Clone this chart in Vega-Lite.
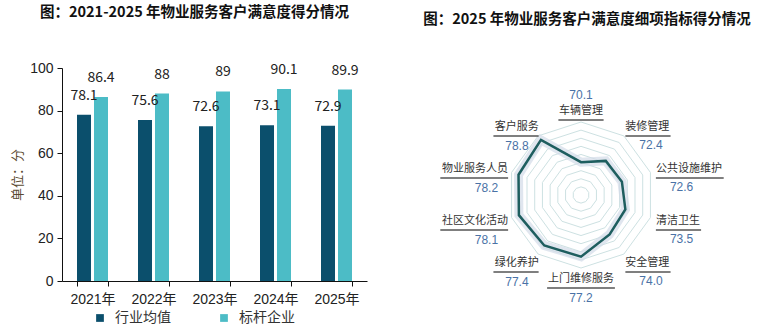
{
  "$schema": "https://vega.github.io/schema/vega-lite/v6.json",
  "background": "white",
  "padding": {"left": 11, "top": 4, "right": 0, "bottom": 0},
  "spacing": 23,
  "config": {"view": {"stroke": null}, "font": "Noto Sans CJK SC"},
  "datasets": {
    "bars": [
      {"year": "2021年", "series": "行业均值", "value": 78.1},
      {"year": "2021年", "series": "标杆企业", "value": 86.4},
      {"year": "2022年", "series": "行业均值", "value": 75.6},
      {"year": "2022年", "series": "标杆企业", "value": 88},
      {"year": "2023年", "series": "行业均值", "value": 72.6},
      {"year": "2023年", "series": "标杆企业", "value": 89},
      {"year": "2024年", "series": "行业均值", "value": 73.1},
      {"year": "2024年", "series": "标杆企业", "value": 90.1},
      {"year": "2025年", "series": "行业均值", "value": 72.9},
      {"year": "2025年", "series": "标杆企业", "value": 89.9}
    ],
    "radar": [
      {"k": 0, "name": "车辆管理", "v": 70.1},
      {"k": 1, "name": "装修管理", "v": 72.4},
      {"k": 2, "name": "公共设施维护", "v": 72.6},
      {"k": 3, "name": "清洁卫生", "v": 73.5},
      {"k": 4, "name": "安全管理", "v": 74.0},
      {"k": 5, "name": "上门维修服务", "v": 77.2},
      {"k": 6, "name": "绿化养护", "v": 77.4},
      {"k": 7, "name": "社区文化活动", "v": 78.1},
      {"k": 8, "name": "物业服务人员", "v": 78.2},
      {"k": 9, "name": "客户服务", "v": 78.8}
    ],
    "rings": [
      {"level": 64, "k": [0,1,2,3,4,5,6,7,8,9]},
      {"level": 66, "k": [0,1,2,3,4,5,6,7,8,9]},
      {"level": 68, "k": [0,1,2,3,4,5,6,7,8,9]},
      {"level": 70, "k": [0,1,2,3,4,5,6,7,8,9]},
      {"level": 72, "k": [0,1,2,3,4,5,6,7,8,9]},
      {"level": 74, "k": [0,1,2,3,4,5,6,7,8,9]},
      {"level": 76, "k": [0,1,2,3,4,5,6,7,8,9]},
      {"level": 78, "k": [0,1,2,3,4,5,6,7,8,9]},
      {"level": 80, "k": [0,1,2,3,4,5,6,7,8,9]}
    ]
  },
  "hconcat": [
    {
      "width": 305,
      "height": 213,
      "title": {"text": "图：2021-2025 年物业服务客户满意度得分情况", "font": "Noto Sans CJK SC", "fontSize": 14.5, "fontWeight": "bold", "color": "#111", "anchor": "middle", "dx": -20, "offset": 41},
      "data": {"name": "bars"},
      "encoding": {
        "x": {"field": "year", "type": "nominal", "title": null,
          "scale": {"paddingInner": 0.492, "paddingOuter": 0.246},
          "axis": {"labelAngle": 0, "tickBand": "extent", "domainColor": "#111", "tickColor": "#111", "tickSize": 5, "labelFontSize": 14, "labelColor": "#222", "labelPadding": 6, "labelFont": "Liberation Sans, Noto Sans CJK SC"}},
        "xOffset": {"field": "series", "type": "nominal", "sort": ["行业均值", "标杆企业"], "scale": {"paddingInner": 0.176, "paddingOuter": 0}},
        "y": {"field": "value", "type": "quantitative", "scale": {"domain": [0, 100], "nice": false},
          "axis": {"values": [0, 20, 40, 60, 80, 100], "grid": false, "domainColor": "#111", "tickColor": "#111", "tickSize": 5, "labelFontSize": 14, "labelColor": "#222", "labelFont": "Liberation Sans", "labelPadding": 4,
            "title": "单位：分", "titleFont": "Noto Sans CJK SC", "titleFontSize": 13, "titleFontWeight": "normal", "titleColor": "#5a4a30", "titlePadding": 5}}
      },
      "layer": [
        {"mark": {"type": "bar"},
          "encoding": {"color": {"field": "series", "type": "nominal", "sort": ["行业均值", "标杆企业"],
            "scale": {"domain": ["行业均值", "标杆企业"], "range": ["#0b4f6c", "#4cbcc6"]},
            "legend": {"orient": "none", "legendX": 31, "legendY": 243, "direction": "horizontal", "title": null, "symbolType": "square", "symbolSize": 60, "symbolStrokeWidth": 0, "labelFontSize": 14, "labelFont": "Noto Sans CJK SC", "labelColor": "#333", "columnPadding": 46, "labelOffset": 8, "padding": 0}}}},
        {"mark": {"type": "text", "dy": -19, "baseline": "middle", "fontSize": 14, "color": "#222", "font": "Noto Sans CJK SC"},
          "encoding": {"text": {"field": "value", "type": "quantitative"}}}
      ]
    },
    {
      "width": 360,
      "height": 240,
      "title": {"text": "图：2025 年物业服务客户满意度细项指标得分情况", "font": "Noto Sans CJK SC", "fontSize": 14.5, "fontWeight": "bold", "color": "#111", "anchor": "middle", "dx": 17, "offset": 41},
      "layer": [
        {
          "data": {"name": "rings"},
          "transform": [
            {"flatten": ["k"]},
            {"calculate": "(datum.level-62)/18*73", "as": "r"},
            {"calculate": "191 + datum.r*sin(datum.k*PI/5)", "as": "px"},
            {"calculate": "127 - datum.r*cos(datum.k*PI/5)", "as": "py"}
          ],
          "mark": {"type": "line", "interpolate": "linear-closed", "stroke": "#cde1e2", "strokeWidth": 1},
          "encoding": {
            "x": {"field": "px", "type": "quantitative", "scale": {"domain": [0, 360], "nice": false, "zero": false}, "axis": null},
            "y": {"field": "py", "type": "quantitative", "scale": {"domain": [0, 240], "nice": false, "zero": false, "reverse": true}, "axis": null},
            "detail": {"field": "level", "type": "nominal"},
            "order": {"field": "k", "type": "quantitative"}
          }
        },
        {
          "data": {"name": "radar"},
          "transform": [
            {"calculate": "(datum.v-62)/18*73", "as": "r"},
            {"calculate": "191 + datum.r*sin(datum.k*PI/5)", "as": "px"},
            {"calculate": "127 - datum.r*cos(datum.k*PI/5)", "as": "py"}
          ],
          "mark": {"type": "line", "interpolate": "linear-closed", "stroke": "#d3dce8", "strokeWidth": 9, "opacity": 0.7},
          "encoding": {
            "x": {"field": "px", "type": "quantitative", "scale": {"domain": [0, 360], "nice": false, "zero": false}, "axis": null},
            "y": {"field": "py", "type": "quantitative", "scale": {"domain": [0, 240], "nice": false, "zero": false, "reverse": true}, "axis": null},
            "order": {"field": "k", "type": "quantitative"}
          }
        },
        {
          "data": {"name": "radar"},
          "transform": [
            {"calculate": "(datum.v-62)/18*73", "as": "r"},
            {"calculate": "191 + datum.r*sin(datum.k*PI/5)", "as": "px"},
            {"calculate": "127 - datum.r*cos(datum.k*PI/5)", "as": "py"}
          ],
          "mark": {"type": "line", "interpolate": "linear-closed", "stroke": "#1e5e5f", "strokeWidth": 2.5},
          "encoding": {
            "x": {"field": "px", "type": "quantitative", "scale": {"domain": [0, 360], "nice": false, "zero": false}, "axis": null},
            "y": {"field": "py", "type": "quantitative", "scale": {"domain": [0, 240], "nice": false, "zero": false, "reverse": true}, "axis": null},
            "order": {"field": "k", "type": "quantitative"}
          }
        },
        {
          "data": {"name": "radar"},
          "transform": [
            {"calculate": "191 + 84*sin(datum.k*PI/5)", "as": "lx"},
            {"calculate": "127 - 84*cos(datum.k*PI/5)", "as": "ly"},
            {"calculate": "datum.k==0 ? 'top' : datum.k==5 ? 'bottom' : datum.k<5 ? 'right' : 'left'", "as": "side"},
            {"calculate": "length(datum.name)*11.3", "as": "w"},
            {"calculate": "datum.side=='right' ? datum.lx-5 : datum.side=='left' ? datum.lx+7-datum.w : datum.lx-datum.w/2", "as": "ux1"},
            {"calculate": "datum.ux1 + datum.w", "as": "ux2"},
            {"calculate": "datum.ly + 9", "as": "uy"}
          ],
          "layer": [
            {"mark": {"type": "rule", "stroke": "#555", "strokeWidth": 1.6},
              "encoding": {
                "x": {"field": "ux1", "type": "quantitative", "scale": {"domain": [0, 360], "nice": false, "zero": false}, "axis": null},
                "x2": {"field": "ux2"},
                "y": {"field": "uy", "type": "quantitative", "scale": {"domain": [0, 240], "nice": false, "zero": false, "reverse": true}, "axis": null}
              }},
            {"transform": [{"filter": "datum.side=='top' || datum.side=='bottom'"}],
              "mark": {"type": "text", "align": "center", "baseline": "middle", "fontSize": 11, "color": "#333", "font": "Noto Sans CJK SC"},
              "encoding": {
                "x": {"field": "lx", "type": "quantitative", "scale": {"domain": [0, 360], "nice": false, "zero": false}, "axis": null},
                "y": {"field": "ly", "type": "quantitative", "scale": {"domain": [0, 240], "nice": false, "zero": false, "reverse": true}, "axis": null},
                "text": {"field": "name"}
              }},
            {"transform": [{"filter": "datum.side=='right'"}],
              "mark": {"type": "text", "align": "left", "baseline": "middle", "dx": -5, "fontSize": 11, "color": "#333", "font": "Noto Sans CJK SC"},
              "encoding": {
                "x": {"field": "lx", "type": "quantitative", "scale": {"domain": [0, 360], "nice": false, "zero": false}, "axis": null},
                "y": {"field": "ly", "type": "quantitative", "scale": {"domain": [0, 240], "nice": false, "zero": false, "reverse": true}, "axis": null},
                "text": {"field": "name"}
              }},
            {"transform": [{"filter": "datum.side=='left'"}],
              "mark": {"type": "text", "align": "right", "baseline": "middle", "dx": 7, "fontSize": 11, "color": "#333", "font": "Noto Sans CJK SC"},
              "encoding": {
                "x": {"field": "lx", "type": "quantitative", "scale": {"domain": [0, 360], "nice": false, "zero": false}, "axis": null},
                "y": {"field": "ly", "type": "quantitative", "scale": {"domain": [0, 240], "nice": false, "zero": false, "reverse": true}, "axis": null},
                "text": {"field": "name"}
              }},
            {"transform": [{"filter": "datum.side=='top'"}],
              "mark": {"type": "text", "align": "center", "baseline": "middle", "dy": -16, "fontSize": 12, "color": "#4a72a6", "font": "Liberation Sans"},
              "encoding": {
                "x": {"field": "lx", "type": "quantitative", "scale": {"domain": [0, 360], "nice": false, "zero": false}, "axis": null},
                "y": {"field": "ly", "type": "quantitative", "scale": {"domain": [0, 240], "nice": false, "zero": false, "reverse": true}, "axis": null},
                "text": {"field": "v", "type": "quantitative", "format": ".1f"}
              }},
            {"transform": [{"filter": "datum.side=='bottom'"}],
              "mark": {"type": "text", "align": "center", "baseline": "middle", "dy": 19, "fontSize": 12, "color": "#4a72a6", "font": "Liberation Sans"},
              "encoding": {
                "x": {"field": "lx", "type": "quantitative", "scale": {"domain": [0, 360], "nice": false, "zero": false}, "axis": null},
                "y": {"field": "ly", "type": "quantitative", "scale": {"domain": [0, 240], "nice": false, "zero": false, "reverse": true}, "axis": null},
                "text": {"field": "v", "type": "quantitative", "format": ".1f"}
              }},
            {"transform": [{"filter": "datum.side=='right'"}],
              "mark": {"type": "text", "align": "left", "baseline": "middle", "dx": 9, "dy": 18, "fontSize": 12, "color": "#4a72a6", "font": "Liberation Sans"},
              "encoding": {
                "x": {"field": "lx", "type": "quantitative", "scale": {"domain": [0, 360], "nice": false, "zero": false}, "axis": null},
                "y": {"field": "ly", "type": "quantitative", "scale": {"domain": [0, 240], "nice": false, "zero": false, "reverse": true}, "axis": null},
                "text": {"field": "v", "type": "quantitative", "format": ".1f"}
              }},
            {"transform": [{"filter": "datum.side=='left'"}],
              "mark": {"type": "text", "align": "right", "baseline": "middle", "dx": -3, "dy": 19, "fontSize": 12, "color": "#4a72a6", "font": "Liberation Sans"},
              "encoding": {
                "x": {"field": "lx", "type": "quantitative", "scale": {"domain": [0, 360], "nice": false, "zero": false}, "axis": null},
                "y": {"field": "ly", "type": "quantitative", "scale": {"domain": [0, 240], "nice": false, "zero": false, "reverse": true}, "axis": null},
                "text": {"field": "v", "type": "quantitative", "format": ".1f"}
              }}
          ]
        }
      ]
    }
  ]
}
